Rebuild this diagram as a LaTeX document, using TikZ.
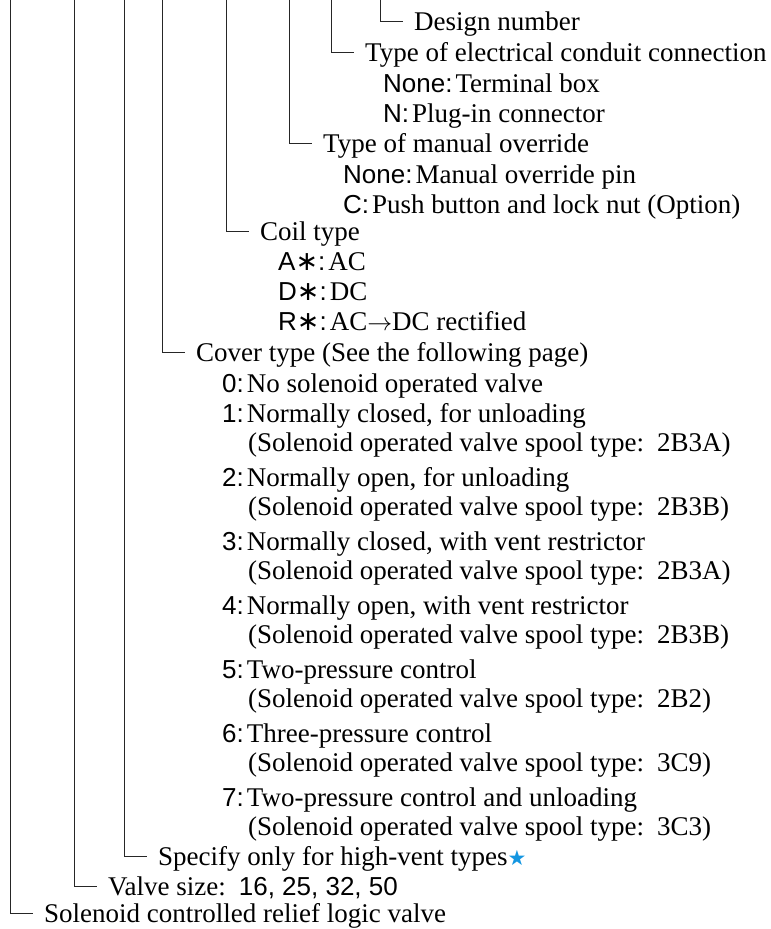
\documentclass[tikz,border=0pt]{standalone}
\usepackage{fontspec}
\setmainfont{Liberation Serif}
\newfontfamily\codefont{Liberation Sans}
\newfontfamily\starfont{DejaVu Sans}
\definecolor{starblue}{RGB}{20,150,225}
\newcommand{\opcode}[1]{{\codefont\fontsize{26pt}{30pt}\selectfont #1}}
\newcommand{\wild}{{\starfont\fontsize{27pt}{30pt}\selectfont ∗}}
\newcommand{\spoolgap}{\hspace{0.48em}}
\tikzset{
  item/.style={anchor=west,inner xsep=11pt,inner ysep=0pt,text height=18pt,text depth=0pt},
  opt/.style={anchor=base west,inner sep=0pt},
  branch/.style={line width=1pt,black!85}
}
\begin{document}
\begin{tikzpicture}[x=1pt,y=-1pt,font=\fontsize{27pt}{30pt}\selectfont]
\useasboundingbox (0,0) rectangle (771,929);
\coordinate (t1) at (10,0);
\coordinate (t2) at (74,0);
\coordinate (t3) at (124,0);
\coordinate (t4) at (162,0);
\coordinate (t5) at (226,0);
\coordinate (t6) at (289,0);
\coordinate (t7) at (331,0);
\coordinate (t8) at (380,0);
\node[item] (design) at (403,21) {Design number};
\node[item] (conduit) at (354,52) {Type of electrical conduit connection};
\node[opt] (c0) at (383,92) {\opcode{None:}\hspace{3pt}Terminal box};
\node[opt] (c1) at (383,122) {\opcode{N:}\hspace{3pt}Plug-in connector};
\node[item] (override) at (312,143) {Type of manual override};
\node[opt] (m0) at (343,183) {\opcode{None:}\hspace{3pt}Manual override pin};
\node[opt] (m1) at (343,213) {\opcode{C:}\hspace{3pt}Push button and lock nut (Option)};
\node[item] (coil) at (249,231) {Coil type};
\node[opt] (k0) at (278,270) {\opcode{A}\wild\opcode{:}\hspace{3pt}AC};
\node[opt] (k1) at (278,300) {\opcode{D}\wild\opcode{:}\hspace{3pt}DC};
\node[opt] (k2) at (278,330) {\opcode{R}\wild\opcode{:}\hspace{3pt}AC$\rightarrow$DC rectified};
\node[item] (cover) at (185,352) {Cover type (See the following page)};
\node[opt] (v0) at (222,392) {\opcode{0:}\hspace{3pt}No solenoid operated valve};
\node[opt] (v1) at (222,422) {\opcode{1:}\hspace{3pt}Normally closed, for unloading};
\node[opt] (s1) at (248,451) {(Solenoid operated valve spool type:\spoolgap 2B3A)};
\node[opt] (v2) at (222,486) {\opcode{2:}\hspace{3pt}Normally open, for unloading};
\node[opt] (s2) at (248,515) {(Solenoid operated valve spool type:\spoolgap 2B3B)};
\node[opt] (v3) at (222,550) {\opcode{3:}\hspace{3pt}Normally closed, with vent restrictor};
\node[opt] (s3) at (248,579) {(Solenoid operated valve spool type:\spoolgap 2B3A)};
\node[opt] (v4) at (222,614) {\opcode{4:}\hspace{3pt}Normally open, with vent restrictor};
\node[opt] (s4) at (248,643) {(Solenoid operated valve spool type:\spoolgap 2B3B)};
\node[opt] (v5) at (222,678) {\opcode{5:}\hspace{3pt}Two-pressure control};
\node[opt] (s5) at (248,707) {(Solenoid operated valve spool type:\spoolgap 2B2)};
\node[opt] (v6) at (222,742) {\opcode{6:}\hspace{3pt}Three-pressure control};
\node[opt] (s6) at (248,771) {(Solenoid operated valve spool type:\spoolgap 3C9)};
\node[opt] (v7) at (222,806) {\opcode{7:}\hspace{3pt}Two-pressure control and unloading};
\node[opt] (s7) at (248,835) {(Solenoid operated valve spool type:\spoolgap 3C3)};
\node[item] (vent) at (147,856) {Specify only for high-vent types{\starfont\fontsize{21pt}{21pt}\selectfont\color{starblue}★}};
\node[item] (size) at (97,886) {Valve size:\spoolgap\opcode{16, 25, 32, 50}};
\node[item] (valve) at (33,913) {Solenoid controlled relief logic valve};
\draw[branch] (t1) |- (valve.west);
\draw[branch] (t2) |- (size.west);
\draw[branch] (t3) |- (vent.west);
\draw[branch] (t4) |- (cover.west);
\draw[branch] (t5) |- (coil.west);
\draw[branch] (t6) |- (override.west);
\draw[branch] (t7) |- (conduit.west);
\draw[branch] (t8) |- (design.west);
\end{tikzpicture}
\end{document}
